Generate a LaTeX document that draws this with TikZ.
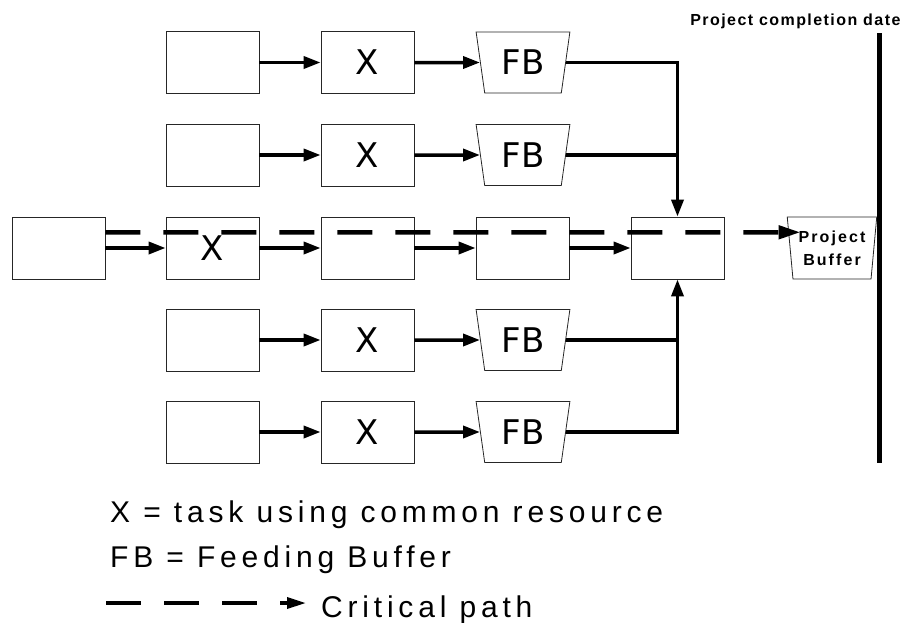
\documentclass[tikz,border=0pt]{standalone}
\usepackage{fontspec}
\setmainfont{Liberation Sans}
\newfontfamily\boxfont{DejaVu Sans}
\newfontfamily\legendfont[LetterSpace=16]{Liberation Sans}
\newfontfamily\datefont[LetterSpace=9]{Liberation Sans}
\newfontfamily\pbfont[LetterSpace=13]{Liberation Sans}
\usetikzlibrary{arrows.meta,shapes.geometric,calc}

\begin{document}
\begin{tikzpicture}[x=1pt,y=-1pt,
    task/.style={draw=black!85, line width=0.8pt, minimum width=93pt, minimum height=62pt, inner sep=0pt, font=\boxfont\fontsize{34}{34}\selectfont},
    fbuf/.style={draw=black!85, line width=0.8pt, trapezium, trapezium stretches=true, trapezium left angle=101, trapezium right angle=101, minimum width=94pt, minimum height=61pt, inner sep=0pt, font=\boxfont\fontsize{34}{34}\selectfont},
    link/.style={line width=3.5pt, -{Triangle[length=17pt,width=12pt]}},
    feed/.style={line width=3.5pt},
    crit/.style={line width=4.5pt, dash pattern=on 35pt off 23pt, -{Triangle[length=22pt,width=13pt]}}]
    \useasboundingbox (0,0) rectangle (906,622);

    % critical chain
    \node[task] (c0) at (58.5,248) {};
    \node[task] (c1) at (212.5,248) {X};
    \node[task] (c2) at (367.5,248) {};
    \node[task] (c3) at (522.5,248) {};
    \node[task] (c4) at (677.5,248) {};
    \node[fbuf, trapezium left angle=98, trapezium right angle=98, minimum width=90pt, minimum height=62pt, align=center, font=\pbfont\bfseries\fontsize{16}{23}\selectfont] (pb) at (832,248) {Project\\Buffer};
    \draw[link] (c0) -- (c1);
    \draw[link] (c1) -- (c2);
    \draw[link] (c2) -- (c3);
    \draw[link] (c3) -- (c4);

    % feeding chains
    \foreach \r/\y in {a/62.5, b/155, d/340, e/432} {
        \node[task] (\r1) at (212.5,\y) {};
        \node[task] (\r2) at (367.5,\y) {X};
        \node[fbuf] (\r3) at (523,\y) {FB};
        \draw[link] (\r1) -- (\r2);
        \draw[link] (\r2) -- (\r3.west);
    }
    \draw[link] (a3.east) -| (c4.north);
    \draw[feed] (b3.east) -- (b3.east -| c4);
    \draw[link] (e3.east) -| (c4.south);
    \draw[feed] (d3.east) -- (d3.east -| c4);

    % critical path
    \coordinate (cs) at ($(c0.north east)!0.25!(c0.south east)$);
    \coordinate (ce) at ($(pb.north west)!0.25!(pb.south west)$);
    \draw[crit] (cs) -- (ce);

    % completion date
    \node[anchor=base east, font=\datefont\bfseries\fontsize{16}{16}\selectfont] (pcd) at (904,25) {Project completion date};
    \coordinate (dtop) at (879,33);
    \coordinate (dbot) at (879,463);
    \draw[line width=5pt] (dtop) -- (dbot);

    % legend
    \node[anchor=base west, inner sep=0pt, font=\legendfont\fontsize{30}{30}\selectfont] (l1) at (110,522) {X = task using common resource};
    \node[anchor=base west, inner sep=0pt, font=\legendfont\fontsize{30}{30}\selectfont] (l2) at (110,567) {FB = Feeding Buffer};
    \coordinate (ls) at (106,603);
    \coordinate (le) at (306,603);
    \draw[crit, line width=3.5pt, -{Triangle[length=19pt,width=11pt]}] (ls) -- (le);
    \node[anchor=base west, inner sep=0pt, font=\legendfont\fontsize{30}{30}\selectfont] (l3) at (321,617) {Critical path};
\end{tikzpicture}
\end{document}
